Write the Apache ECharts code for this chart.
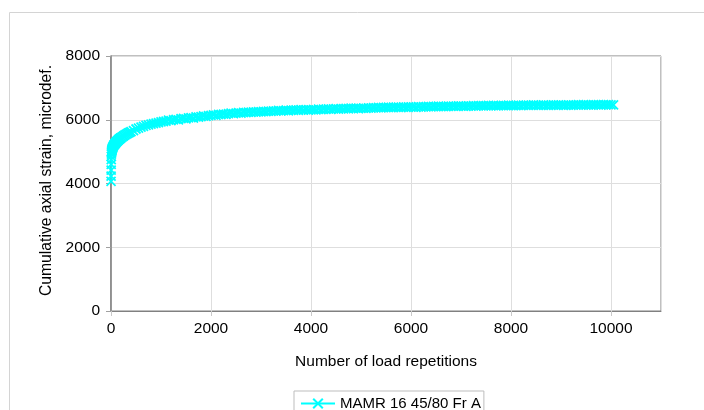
<!DOCTYPE html>
<html>
<head>
<meta charset="utf-8">
<script src="https://cdn.jsdelivr.net/npm/echarts@6/dist/echarts.min.js"></script>
<style>
html,body{margin:0;padding:0;background:#fff;}
#chart{width:704px;height:410px;}
</style>
</head>
<body>
<div id="chart"></div>
<script>
const seriesName = 'MAMR 16 45/80 Fr A';
const xAxisTitle = 'Number of load repetitions';
const yAxisTitle = 'Cumulative axial strain, microdef.';
const xTicks = [0, 2000, 4000, 6000, 8000, 10000];
const yTicks = [0, 2000, 4000, 6000, 8000];

const repetitions = [
  1,2,3,4,5,6,8,10,12,15,18,20,25,30,35,40,50,60,70,80,
  90,100,110,120,130,140,150,160,170,180,190,200,225,250,275,300,325,350,375,400,
  450,500,550,600,650,700,750,800,850,900,950,1000,
  1050,1100,1150,1200,1250,1300,1350,1400,1450,1500,1550,1600,1650,1700,1750,1800,1850,1900,1950,2000,
  2050,2100,2150,2200,2250,2300,2350,2400,2450,2500,2550,2600,2650,2700,2750,2800,2850,2900,2950,3000,
  3050,3100,3150,3200,3250,3300,3350,3400,3450,3500,3550,3600,3650,3700,3750,3800,3850,3900,3950,4000,
  4050,4100,4150,4200,4250,4300,4350,4400,4450,4500,4550,4600,4650,4700,4750,4800,4850,4900,4950,5000,
  5050,5100,5150,5200,5250,5300,5350,5400,5450,5500,5550,5600,5650,5700,5750,5800,5850,5900,5950,6000,
  6050,6100,6150,6200,6250,6300,6350,6400,6450,6500,6550,6600,6650,6700,6750,6800,6850,6900,6950,7000,
  7050,7100,7150,7200,7250,7300,7350,7400,7450,7500,7550,7600,7650,7700,7750,7800,7850,7900,7950,8000,
  8050,8100,8150,8200,8250,8300,8350,8400,8450,8500,8550,8600,8650,8700,8750,8800,8850,8900,8950,9000,
  9050,9100,9150,9200,9250,9300,9350,9400,9450,9500,9550,9600,9650,9700,9750,9800,9850,9900,9950,10000,
  10050
];

const strain = [
  4070,4230,4420,4600,4750,4850,4920,4960,4990,5020,5040,5060,5090,5110,5130,5150,5180,5210,5230,5250,
  5270,5290,5305,5320,5340,5355,5370,5385,5400,5410,5420,5435,5465,5490,5515,5540,5565,5585,5605,5625,
  5660,5710,5740,5770,5795,5820,5840,5860,5878,5895,5912,5930,
  5945,5958,5985,5972,6000,6010,5995,6035,6040,6030,6060,6068,6055,6090,6085,6100,6118,6105,6130,6140,
  6150,6138,6170,6165,6180,6172,6195,6205,6190,6210,6222,6208,6230,6225,6240,6232,6250,6238,6255,6245,
  6260,6252,6270,6262,6280,6270,6290,6278,6285,6298,6282,6300,6292,6310,6298,6315,6305,6320,6302,6312,
  6320,6308,6330,6318,6335,6325,6340,6322,6338,6345,6330,6352,6340,6355,6345,6362,6348,6365,6352,6360,
  6368,6355,6375,6362,6380,6370,6385,6372,6388,6378,6392,6380,6395,6385,6398,6382,6400,6390,6405,6395,
  6402,6390,6410,6398,6412,6402,6418,6405,6420,6410,6425,6412,6422,6415,6430,6418,6428,6420,6432,6425,
  6430,6420,6435,6425,6440,6428,6442,6432,6445,6435,6448,6436,6450,6438,6446,6440,6452,6442,6455,6445,
  6452,6440,6458,6445,6460,6448,6462,6450,6465,6452,6460,6448,6466,6454,6462,6450,6468,6455,6464,6458,
  6462,6450,6468,6455,6470,6458,6472,6460,6475,6462,6470,6458,6476,6464,6472,6460,6478,6465,6474,6470,
  6470
];

const points = repetitions.map((x, i) => [x, strain[i]]);
const font = 'Liberation Sans, Arial, sans-serif';
const cyan = '#00FFFF';

const chart = echarts.init(document.getElementById('chart'), null, {renderer: 'canvas'});
chart.setOption({
  animation: false,
  backgroundColor: '#ffffff',
  graphic: [{
    type: 'rect',
    shape: {x: 9.5, y: 12.5, width: 800, height: 500},
    style: {fill: null, stroke: '#d4d4d4', lineWidth: 1},
    silent: true,
    z: -1
  }],
  grid: {
    left: 111, right: 43, top: 56, bottom: 99,
    show: true, borderColor: '#808080', borderWidth: 1,
    outerBoundsMode: 'none'
  },
  legend: {
    show: true,
    left: 294, top: 391,
    padding: [5, 3, 5, 6],
    borderColor: '#bdbdbd', borderWidth: 1,
    backgroundColor: '#fff',
    itemWidth: 34, itemHeight: 12,
    textStyle: {fontFamily: font, fontSize: 15, color: '#000'},
    data: [seriesName]
  },
  xAxis: {
    type: 'value',
    min: 0, max: 11000, interval: 2000,
    name: xAxisTitle,
    nameLocation: 'middle',
    nameGap: 43,
    nameTextStyle: {fontFamily: font, fontSize: 15.5, color: '#000'},
    axisLine: {show: true, lineStyle: {color: '#808080', width: 1}},
    axisTick: {show: true, length: 5, lineStyle: {color: '#c8c8c8'}},
    axisLabel: {
      fontFamily: font, fontSize: 15.5, color: '#000', margin: 10,
      showMaxLabel: false,
      formatter: v => (xTicks.indexOf(v) >= 0 ? String(v) : '')
    },
    splitLine: {show: true, lineStyle: {color: '#dedede', width: 1}}
  },
  yAxis: {
    type: 'value',
    min: 0, max: 8000, interval: 2000,
    name: yAxisTitle,
    nameLocation: 'middle',
    nameGap: 56,
    nameTextStyle: {fontFamily: font, fontSize: 15.7, color: '#000', padding: [0, 0, 0, 6]},
    axisLine: {show: true, lineStyle: {color: '#808080', width: 1.5}},
    axisTick: {show: true, length: 5, lineStyle: {color: '#a0a0a0'}},
    axisLabel: {
      fontFamily: font, fontSize: 15.5, color: '#000', margin: 11,
      formatter: v => (yTicks.indexOf(v) >= 0 ? String(v) : '')
    },
    splitLine: {show: true, lineStyle: {color: '#dedede', width: 1}}
  },
  series: [{
    name: seriesName,
    type: 'line',
    data: points,
    showSymbol: true,
    symbol: 'path://M0,0L10,10M10,0L0,10',
    symbolSize: 9,
    itemStyle: {color: cyan, borderColor: cyan, borderWidth: 1.8},
    lineStyle: {color: cyan, width: 1.5},
    emphasis: {disabled: true}
  }]
});
</script>
</body>
</html>
